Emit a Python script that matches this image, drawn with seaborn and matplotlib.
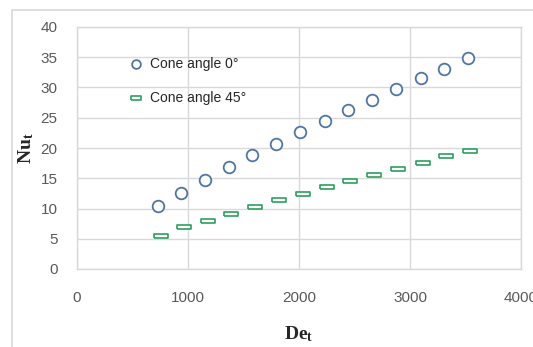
import matplotlib
matplotlib.use("Agg")
import matplotlib.pyplot as plt
import seaborn as sns
import pandas as pd
from matplotlib.patches import Rectangle

# Data
de_cone0 = [730, 940, 1150, 1370, 1580, 1790, 2005, 2230, 2445, 2660, 2870, 3095, 3310, 3520]
nu_cone0 = [10.4, 12.6, 14.7, 16.8, 18.8, 20.6, 22.6, 24.4, 26.2, 27.9, 29.7, 31.5, 33.0, 34.8]
de_cone45 = [760, 967, 1180, 1387, 1606, 1820, 2036, 2249, 2462, 2676, 2895, 3114, 3324, 3541]
nu_cone45 = [5.5, 6.9, 8.0, 9.1, 10.3, 11.4, 12.4, 13.6, 14.6, 15.5, 16.6, 17.5, 18.6, 19.5]
labels = ["Cone angle 0°", "Cone angle 45°"]
x_ticks = [0, 1000, 2000, 3000, 4000]
y_ticks = [0, 5, 10, 15, 20, 25, 30, 35, 40]

sns.set_theme(style="white")
plt.rcParams['font.family'] = ['Liberation Sans Narrow', 'Liberation Sans', 'DejaVu Sans']
plt.rcParams['mathtext.fontset'] = 'custom'
plt.rcParams['mathtext.rm'] = 'Liberation Serif'
plt.rcParams['mathtext.bf'] = 'Liberation Serif:bold'
plt.rcParams['mathtext.it'] = 'Liberation Serif:italic'

fig = plt.figure(figsize=(5.33, 3.47), dpi=100)
ax = fig.add_axes([77/533, 1-269/347, (521-77)/533, (269-27)/347])

# outer chart border
fig.patches.append(Rectangle((12/533, -0.01), 1.0, 1-10/347+0.01, transform=fig.transFigure,
                             fill=False, edgecolor='#d9d9d9', linewidth=1.2))

df0 = pd.DataFrame({"De": de_cone0, "Nu": nu_cone0})
df45 = pd.DataFrame({"De": de_cone45, "Nu": nu_cone45})

rect = [(-1, -0.28), (1, -0.28), (1, 0.28), (-1, 0.28), (-1, -0.28)]

sns.scatterplot(data=df0, x="De", y="Nu", ax=ax, marker='o', s=70,
                facecolor='white', edgecolor='#4f76a3', linewidth=1.3, label=labels[0], zorder=3)
sns.scatterplot(data=df45, x="De", y="Nu", ax=ax, marker=rect, s=110,
                facecolor='white', edgecolor='#2e9e5e', linewidth=1.2, label=labels[1], zorder=3)

ax.set_xlim(0, 4000)
ax.set_ylim(0, 40)
ax.set_xticks(x_ticks)
ax.set_yticks(y_ticks)
ax.grid(True, color='#d9d9d9', linewidth=1.0)
ax.set_axisbelow(True)
for sp in ax.spines.values():
    sp.set_color('#d9d9d9')
    sp.set_linewidth(1.0)

ax.tick_params(axis='both', length=0, colors='#595959', labelsize=11)
ax.tick_params(axis='x', pad=16)
ax.tick_params(axis='y', pad=14)

ax.set_xlabel(r"$\mathbf{De_t}$", fontsize=14, labelpad=14)
ax.set_ylabel(r"$\mathbf{Nu_t}$", fontsize=14, labelpad=3)

leg = ax.legend(loc='upper left', bbox_to_anchor=(0.09, 0.90), frameon=False,
                fontsize=10, labelspacing=1.45, handletextpad=0.0, markerscale=0.75,
                borderaxespad=0)
for t in leg.get_texts():
    t.set_color('#262626')

fig.savefig("out.png", dpi=100)
